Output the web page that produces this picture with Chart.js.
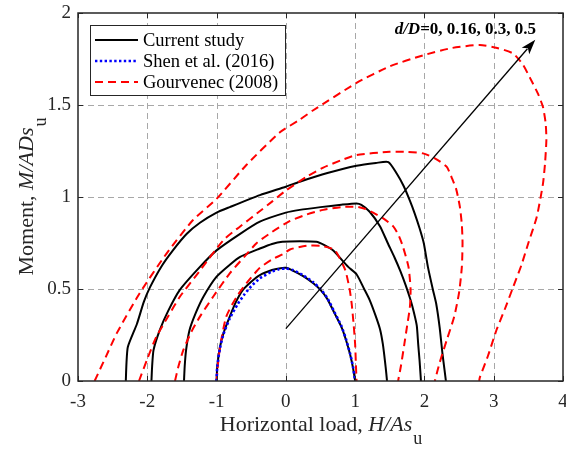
<!DOCTYPE html>
<html>
<head>
<meta charset="utf-8">
<script src="https://cdn.jsdelivr.net/npm/chart.js@4.4.1/dist/chart.umd.min.js"></script>
<style>
  html, body { margin: 0; padding: 0; background: #fff; }
  #wrap { width: 566px; height: 449px; }
</style>
</head>
<body>
<div id="wrap"><canvas id="chart" width="566" height="449"></canvas></div>
<script>
// Axes
const xRange = [-3, 4];
const yRange = [0, 2];
const xStep = 1;
const yStep = 0.5;

// Current study, d/D = 0, 0.16, 0.3, 0.5  ([H/As_u, M/ADs_u])
const currentD0 = [[-1.0,0],[-0.99,0.08],[-0.95,0.186],[-0.9,0.26],[-0.81,0.35],[-0.72,0.43],[-0.62,0.495],[-0.5,0.54],[-0.375,0.576],[-0.2,0.603],[-0.1,0.612],[0,0.615],[0.1,0.6],[0.25,0.57],[0.4,0.53],[0.5,0.495],[0.6,0.445],[0.7,0.37],[0.8,0.295],[0.87,0.22],[0.93,0.14],[0.97,0.07],[1.0,0]];
const currentD016 = [[-1.47,0],[-1.46,0.08],[-1.44,0.168],[-1.39,0.277],[-1.3,0.37],[-1.19,0.458],[-1.0,0.567],[-0.8,0.635],[-0.66,0.675],[-0.375,0.72],[-0.2,0.745],[-0.05,0.757],[0.2,0.76],[0.44,0.757],[0.55,0.74],[0.68,0.71],[0.9,0.62],[1.02,0.58],[1.13,0.5],[1.21,0.44],[1.3,0.35],[1.36,0.28],[1.4,0.2],[1.43,0.11],[1.45,0.04],[1.46,0]];
const currentD03 = [[-1.94,0],[-1.93,0.08],[-1.91,0.168],[-1.82,0.277],[-1.7,0.38],[-1.53,0.495],[-1.24,0.62],[-1.0,0.71],[-0.66,0.8],[-0.375,0.866],[0,0.915],[0.2,0.93],[0.5,0.945],[0.8,0.958],[1.02,0.965],[1.09,0.957],[1.21,0.92],[1.36,0.84],[1.47,0.75],[1.57,0.67],[1.65,0.6],[1.73,0.52],[1.8,0.44],[1.85,0.37],[1.89,0.3],[1.91,0.2],[1.93,0.11],[1.95,0]];
const currentD05 = [[-2.31,0],[-2.3,0.1],[-2.28,0.186],[-2.15,0.31],[-2.05,0.43],[-1.96,0.51],[-1.8,0.62],[-1.63,0.71],[-1.43,0.8],[-1.24,0.86],[-1.0,0.915],[-0.81,0.945],[-0.375,1.01],[0,1.056],[0.2,1.083],[0.6,1.13],[1.02,1.17],[1.3,1.185],[1.48,1.19],[1.6,1.128],[1.7,1.06],[1.79,0.98],[1.86,0.91],[1.93,0.83],[1.99,0.75],[2.05,0.62],[2.12,0.5],[2.17,0.42],[2.22,0.29],[2.26,0.15],[2.29,0.06],[2.31,0]];

// Shen et al. (2016), d/D = 0
const shen2016 = [[-1.0,0],[-0.99,0.08],[-0.95,0.18],[-0.9,0.255],[-0.81,0.34],[-0.7,0.415],[-0.6,0.47],[-0.5,0.515],[-0.375,0.558],[-0.2,0.595],[-0.1,0.607],[0,0.612],[0.1,0.603],[0.25,0.575],[0.4,0.535],[0.5,0.5],[0.6,0.45],[0.7,0.375],[0.8,0.3],[0.87,0.225],[0.93,0.145],[0.97,0.075],[1.0,0]];

// Gourvenec (2008), d/D = 0, 0.16, 0.3, 0.5
const gourvenecD0 = [[-1.0,0],[-0.98,0.09],[-0.95,0.186],[-0.86,0.35],[-0.71,0.458],[-0.55,0.54],[-0.375,0.615],[-0.2,0.66],[-0.04,0.69],[0.06,0.715],[0.3,0.735],[0.5,0.735],[0.62,0.725],[0.71,0.71],[0.78,0.665],[0.86,0.6],[0.92,0.5],[0.95,0.42],[0.98,0.3],[1.0,0.2],[1.01,0.1],[1.02,0]];
const gourvenecD016 = [[-1.6,0],[-1.55,0.08],[-1.48,0.168],[-1.36,0.27],[-1.24,0.35],[-1.05,0.458],[-0.81,0.585],[-0.6,0.675],[-0.42,0.75],[-0.2,0.81],[0.06,0.87],[0.3,0.905],[0.54,0.93],[0.8,0.945],[1.02,0.947],[1.15,0.935],[1.26,0.915],[1.4,0.885],[1.55,0.84],[1.63,0.79],[1.69,0.73],[1.77,0.62],[1.8,0.5],[1.79,0.4],[1.75,0.3],[1.71,0.2],[1.66,0.08],[1.62,0]];
const gourvenecD03 = [[-2.12,0],[-2.0,0.12],[-1.87,0.24],[-1.7,0.35],[-1.53,0.458],[-1.24,0.6],[-0.9,0.766],[-0.66,0.84],[-0.42,0.91],[-0.2,0.975],[0,1.035],[0.3,1.11],[0.54,1.16],[0.8,1.2],[1.02,1.228],[1.5,1.246],[1.75,1.245],[1.98,1.237],[2.15,1.21],[2.32,1.165],[2.4,1.1],[2.46,1.04],[2.51,0.95],[2.54,0.85],[2.55,0.75],[2.54,0.62],[2.5,0.48],[2.43,0.35],[2.32,0.22],[2.22,0.1],[2.15,0]];
const gourvenecD05 = [[-2.76,0],[-2.6,0.13],[-2.44,0.26],[-2.11,0.477],[-1.72,0.694],[-1.34,0.875],[-1.0,0.99],[-0.57,1.174],[-0.09,1.35],[0.2,1.42],[0.39,1.47],[1.02,1.62],[1.5,1.71],[1.98,1.77],[2.4,1.81],[2.8,1.826],[3.05,1.81],[3.28,1.78],[3.42,1.72],[3.52,1.65],[3.64,1.56],[3.71,1.49],[3.75,1.4],[3.76,1.31],[3.74,1.18],[3.71,1.07],[3.62,0.89],[3.5,0.75],[3.4,0.63],[3.28,0.51],[3.16,0.39],[3.04,0.277],[2.92,0.14],[2.8,0.02],[2.79,0]];

// Annotation
const legendLabels = ['Current study', 'Shen et al. (2016)', 'Gourvenec (2008)'];
const arrowFrom = [0, 0.285];
const arrowTo = [3.6, 1.855];
const noteAt = [1.57, 1.885];
const notePrefix = 'd/D';
const noteText = '=0, 0.16, 0.3, 0.5';
const xTitle = ['Horizontal load, ', 'H/As', 'u'];
const yTitle = ['Moment, ', 'M/ADs', 'u'];

const FONT = '"Liberation Serif", "Times New Roman", serif';
const INK = '#262626';

const styles = {
  current: { borderColor: '#000000', borderWidth: 2, borderDash: [] },
  shen: { borderColor: '#0000ff', borderWidth: 2.6, borderDash: [2.4, 2.4] },
  gourvenec: { borderColor: '#ff0000', borderWidth: 2, borderDash: [8, 5] }
};

const toPts = arr => arr.map(p => ({ x: p[0], y: p[1] }));
const mk = (label, arr, st) => Object.assign({
  label: label, data: toPts(arr), showLine: true, pointRadius: 0, tension: 0.2, fill: false
}, st);

const datasets = [
  mk('Shen et al. (2016)', shen2016, styles.shen),
  mk('Gourvenec d/D=0', gourvenecD0, styles.gourvenec),
  mk('Gourvenec d/D=0.16', gourvenecD016, styles.gourvenec),
  mk('Gourvenec d/D=0.3', gourvenecD03, styles.gourvenec),
  mk('Gourvenec d/D=0.5', gourvenecD05, styles.gourvenec),
  mk('Current d/D=0', currentD0, styles.current),
  mk('Current d/D=0.16', currentD016, styles.current),
  mk('Current d/D=0.3', currentD03, styles.current),
  mk('Current d/D=0.5', currentD05, styles.current)
];

// draws text pieces: plain, italic, subscript
function drawTitle(ctx, parts, size, subSize, subDrop) {
  const fNorm = size + 'px ' + FONT;
  const fItal = 'italic ' + size + 'px ' + FONT;
  const fSub = subSize + 'px ' + FONT;
  ctx.font = fNorm; const w0 = ctx.measureText(parts[0]).width;
  ctx.font = fItal; const w1 = ctx.measureText(parts[1]).width;
  ctx.font = fSub; const w2 = ctx.measureText(parts[2]).width;
  let x = -(w0 + w1 + w2) / 2;
  ctx.textBaseline = 'alphabetic';
  ctx.textAlign = 'left';
  ctx.font = fNorm; ctx.fillText(parts[0], x, 0); x += w0;
  ctx.font = fItal; ctx.fillText(parts[1], x, 0); x += w1;
  ctx.font = fSub; ctx.fillText(parts[2], x + 1, subDrop);
}

const decorPlugin = {
  id: 'decor',
  beforeDatasetsDraw(chart) {
    // dashed grid
    const { ctx, chartArea: a, scales: { x, y } } = chart;
    ctx.save();
    ctx.strokeStyle = '#a8a8a8';
    ctx.lineWidth = 1;
    ctx.setLineDash([6, 4]);
    ctx.beginPath();
    for (let v = xRange[0] + xStep; v < xRange[1]; v += xStep) {
      const px = Math.round(x.getPixelForValue(v)) + 0.5;
      ctx.moveTo(px, a.top); ctx.lineTo(px, a.bottom);
    }
    for (let v = yRange[0] + yStep; v < yRange[1] - 1e-9; v += yStep) {
      const py = Math.round(y.getPixelForValue(v)) + 0.5;
      ctx.moveTo(a.left, py); ctx.lineTo(a.right, py);
    }
    ctx.stroke();
    ctx.restore();
  },
  afterDatasetsDraw(chart) {
    const { ctx, chartArea: a, scales: { x, y } } = chart;
    ctx.save();
    ctx.setLineDash([]);

    // arrow
    const x0 = x.getPixelForValue(arrowFrom[0]), y0 = y.getPixelForValue(arrowFrom[1]);
    const x1 = x.getPixelForValue(arrowTo[0]), y1 = y.getPixelForValue(arrowTo[1]);
    const ang = Math.atan2(y1 - y0, x1 - x0);
    const hl = 15, hw = 5;
    ctx.strokeStyle = '#000'; ctx.fillStyle = '#000'; ctx.lineWidth = 1.3;
    ctx.beginPath();
    ctx.moveTo(x0, y0);
    ctx.lineTo(x1 - Math.cos(ang) * hl * 0.8, y1 - Math.sin(ang) * hl * 0.8);
    ctx.stroke();
    ctx.beginPath();
    ctx.moveTo(x1, y1);
    ctx.lineTo(x1 - Math.cos(ang) * hl + Math.sin(ang) * hw, y1 - Math.sin(ang) * hl - Math.cos(ang) * hw);
    ctx.lineTo(x1 - Math.cos(ang) * hl * 0.75, y1 - Math.sin(ang) * hl * 0.75);
    ctx.lineTo(x1 - Math.cos(ang) * hl - Math.sin(ang) * hw, y1 - Math.sin(ang) * hl + Math.cos(ang) * hw);
    ctx.closePath();
    ctx.fill();

    // note text
    const tx = x.getPixelForValue(noteAt[0]), ty = y.getPixelForValue(noteAt[1]);
    ctx.textBaseline = 'alphabetic'; ctx.textAlign = 'left';
    ctx.font = 'italic bold 17px ' + FONT;
    ctx.fillText(notePrefix, tx, ty);
    const pw = ctx.measureText(notePrefix).width;
    ctx.font = 'bold 17px ' + FONT;
    ctx.fillText(noteText, tx + pw, ty);

    // frame with inward ticks
    ctx.strokeStyle = INK; ctx.lineWidth = 1.5;
    ctx.strokeRect(a.left, a.top, a.right - a.left, a.bottom - a.top);
    ctx.lineWidth = 1;
    ctx.beginPath();
    for (let v = xRange[0]; v <= xRange[1]; v += xStep) {
      const px = Math.round(x.getPixelForValue(v)) + 0.5;
      ctx.moveTo(px, a.bottom); ctx.lineTo(px, a.bottom - 5);
      ctx.moveTo(px, a.top); ctx.lineTo(px, a.top + 5);
    }
    for (let v = yRange[0]; v <= yRange[1] + 1e-9; v += yStep) {
      const py = Math.round(y.getPixelForValue(v)) + 0.5;
      ctx.moveTo(a.left, py); ctx.lineTo(a.left + 5, py);
      ctx.moveTo(a.right, py); ctx.lineTo(a.right - 5, py);
    }
    ctx.stroke();

    // legend
    const lx = a.left + 12, ly = a.top + 12, lw = 195, lh = 70;
    ctx.fillStyle = '#fff';
    ctx.fillRect(lx, ly, lw, lh);
    ctx.strokeStyle = INK; ctx.lineWidth = 1;
    ctx.strokeRect(lx + 0.5, ly + 0.5, lw, lh);
    const legStyles = [styles.current, styles.shen, styles.gourvenec];
    legendLabels.forEach((lab, i) => {
      const cy = ly + 15 + i * 21;
      const st = legStyles[i];
      ctx.strokeStyle = st.borderColor; ctx.lineWidth = st.borderWidth;
      ctx.setLineDash(st.borderDash);
      ctx.beginPath(); ctx.moveTo(lx + 5, cy); ctx.lineTo(lx + 48, cy); ctx.stroke();
      ctx.setLineDash([]);
      ctx.fillStyle = '#000';
      ctx.font = '18.5px ' + FONT;
      ctx.textBaseline = 'middle';
      ctx.fillText(lab, lx + 53, cy + 1);
    });
    ctx.restore();
  },
  afterDraw(chart) {
    const { ctx, chartArea: a } = chart;
    ctx.save();
    ctx.fillStyle = INK;
    ctx.translate((a.left + a.right) / 2, 431);
    drawTitle(ctx, xTitle, 22, 18, 13);
    ctx.restore();
    ctx.save();
    ctx.fillStyle = INK;
    ctx.translate(33, (a.top + a.bottom) / 2);
    ctx.rotate(-Math.PI / 2);
    drawTitle(ctx, yTitle, 22, 18, 13);
    ctx.restore();
  }
};

const tickLabel = v => String(Math.round(v * 10) / 10);

new Chart(document.getElementById('chart'), {
  type: 'scatter',
  data: { datasets: datasets },
  options: {
    responsive: false,
    animation: false,
    events: [],
    layout: { padding: { left: 0, right: 3, top: 13, bottom: 0 } },
    plugins: { legend: { display: false }, tooltip: { enabled: false } },
    scales: {
      x: {
        type: 'linear', min: xRange[0], max: xRange[1],
        ticks: { stepSize: xStep, color: INK, font: { family: FONT, size: 19 }, padding: 10, callback: tickLabel },
        grid: { display: false, drawTicks: false },
        border: { display: false },
        afterFit: s => { s.height = 68; s.paddingLeft = 0; s.paddingRight = 0; }
      },
      y: {
        type: 'linear', min: yRange[0], max: yRange[1],
        ticks: { stepSize: yStep, color: INK, font: { family: FONT, size: 19 }, padding: 7, callback: tickLabel },
        grid: { display: false, drawTicks: false },
        border: { display: false },
        afterFit: s => { s.width = 78; s.paddingTop = 0; s.paddingBottom = 0; }
      }
    }
  },
  plugins: [decorPlugin]
});
</script>
</body>
</html>
